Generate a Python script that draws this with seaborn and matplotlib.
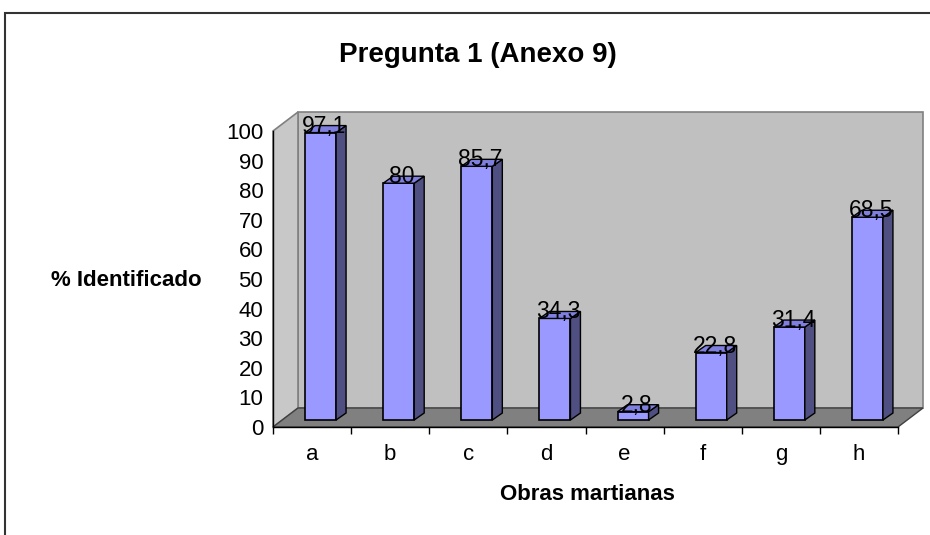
import matplotlib
matplotlib.use('Agg')
import matplotlib.pyplot as plt
import seaborn as sns
import pandas as pd
from matplotlib.patches import Polygon, Rectangle
from matplotlib.transforms import ScaledTranslation, IdentityTransform

# ---- data ----
categories = ['a', 'b', 'c', 'd', 'e', 'f', 'g', 'h']
values = [97.1, 80, 85.7, 34.3, 2.8, 22.8, 31.4, 68.5]
value_labels = ['97,1', '80', '85,7', '34,3', '2,8', '22,8', '31,4', '68,5']
y_ticks = list(range(0, 101, 10))
title = 'Pregunta 1 (Anexo 9)'
x_label = 'Obras martianas'
y_label = '% Identificado'

sns.set_theme(style='white')
plt.rcParams['font.family'] = ['Liberation Sans', 'DejaVu Sans']
plt.rcParams['text.color'] = 'black'
plt.rcParams['xtick.color'] = 'black'
plt.rcParams['ytick.color'] = 'black'
plt.rcParams['xtick.labelcolor'] = 'black'
plt.rcParams['ytick.labelcolor'] = 'black'
plt.rcParams['axes.labelcolor'] = 'black'

W, H = 930, 535
DPI = 100
fig = plt.figure(figsize=(W / DPI, H / DPI), dpi=DPI)
fig.patch.set_facecolor('white')

# axes covering the front plane of the 3D plot area
ax = fig.add_axes([273 / W, (H - 427) / H, 625 / W, 296 / H])
ax.set_facecolor('none')

df = pd.DataFrame({'cat': categories, 'val': values})
sns.barplot(data=df, x='cat', y='val', color='#9999ff', saturation=1,
            width=0.397, edgecolor='black', linewidth=1.2, ax=ax, zorder=5)
ax.set_xlim(-0.5, 7.5)
ax.set_ylim(0, 100)
ax.autoscale(False)

# depth offsets in pixels (x right, y up)
D = (25, 19)      # full depth of the plot box
F = (8.5, 7)      # front face of bars
B = (10, 7)       # depth of each bar

def P(x, y, off=(0, 0)):
    dx, dy = ax.transData.transform((x, y))
    return (dx + off[0], dy + off[1])

def add(o1, o2):
    return (o1[0] + o2[0], o1[1] + o2[1])

x0, x1 = -0.5, 7.5
# back wall
fig.add_artist(Polygon([P(x0, 0, D), P(x1, 0, D), P(x1, 100, D), P(x0, 100, D)],
                       closed=True, transform=IdentityTransform(),
                       facecolor='#c0c0c0', edgecolor='#808080', lw=1.2, zorder=-3))
# left wall
fig.add_artist(Polygon([P(x0, 0), P(x0, 0, D), P(x0, 100, D), P(x0, 100)],
                       closed=True, transform=IdentityTransform(),
                       facecolor='#c8c8c8', edgecolor='#808080', lw=1.2, zorder=-3))
# floor
fig.add_artist(Polygon([P(x0, 0), P(x1, 0), P(x1, 0, D), P(x0, 0, D)],
                       closed=True, transform=IdentityTransform(),
                       facecolor='#808080', edgecolor='#404040', lw=1.0, zorder=-2))

# shift bars to their depth position and add side / top faces
shift = ScaledTranslation(F[0] / DPI, F[1] / DPI, fig.dpi_scale_trans)
FB = add(F, B)
for p in ax.patches:
    p.set_transform(ax.transData + shift)
    bx0 = p.get_x()
    bx1 = bx0 + p.get_width()
    h = p.get_height()
    side = Polygon([P(bx1, 0, F), P(bx1, 0, FB), P(bx1, h, FB), P(bx1, h, F)],
                   closed=True, transform=IdentityTransform(),
                   facecolor='#4f4f82', edgecolor='black', lw=1.0, zorder=6, clip_on=False)
    top = Polygon([P(bx0, h, F), P(bx1, h, F), P(bx1, h, FB), P(bx0, h, FB)],
                  closed=True, transform=IdentityTransform(),
                  facecolor='#7f7fdf', edgecolor='black', lw=1.0, zorder=6, clip_on=False)
    ax.add_artist(side)
    ax.add_artist(top)

# value labels
for i, (v, lab) in enumerate(zip(values, value_labels)):
    ax.annotate(lab, (i, v), xytext=(12, 13.5), textcoords='offset pixels',
                ha='center', va='center', fontsize=16.5, color='black',
                zorder=10, annotation_clip=False)

# axes styling
for s in ['top', 'right']:
    ax.spines[s].set_visible(False)
for s in ['left', 'bottom']:
    ax.spines[s].set_color('black')
    ax.spines[s].set_linewidth(1.0)
ax.set_yticks(y_ticks)
ax.set_yticklabels([str(t) for t in y_ticks])
ax.tick_params(axis='y', which='major', direction='out', length=5, width=1,
               color='black', labelcolor='black', labelsize=16, pad=2)
ax.set_xticks(range(len(categories)))
ax.set_xticklabels(categories)
ax.set_xticks([i - 0.5 for i in range(len(categories) + 1)], minor=True)
ax.tick_params(axis='x', which='major', length=0, labelsize=16, pad=12,
               labelcolor='black')
ax.tick_params(axis='x', which='minor', direction='out', length=5, width=1,
               color='black', bottom=True)
ax.set_xlabel('')
ax.set_ylabel('')
ax.grid(False)

# titles
fig.text(478 / W, 1 - 55 / H, title, ha='center', va='center',
         fontsize=20, fontweight='bold', color='black')
fig.text(126 / W, 1 - 280 / H, y_label, ha='center', va='center',
         fontsize=16, fontweight='bold', color='black')
fig.text(587 / W, 1 - 495 / H, x_label, ha='center', va='center',
         fontsize=16, fontweight='bold', color='black')

# outer frame
fig.add_artist(Rectangle((5, -10), 940, H - 13 + 10, transform=IdentityTransform(),
                         fill=False, edgecolor='#333333', lw=1.5, zorder=10))

fig.savefig('out.png', dpi=DPI)
